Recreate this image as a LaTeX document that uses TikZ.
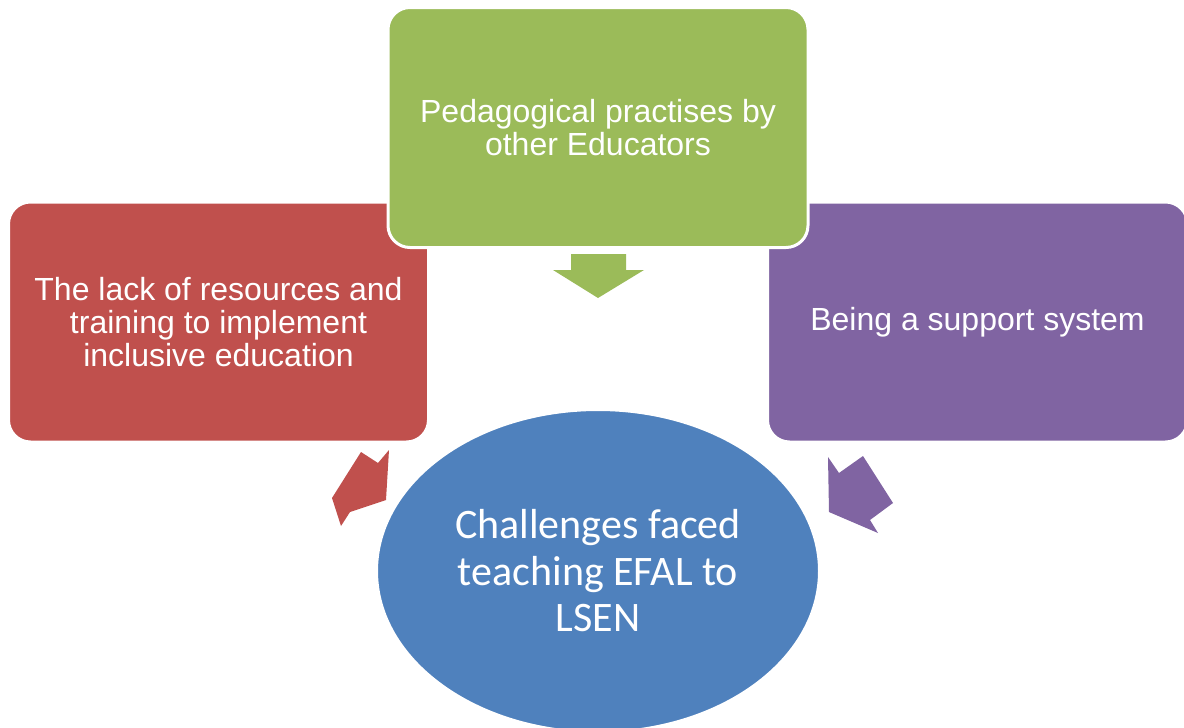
\documentclass[tikz,border=0pt]{standalone}
\usepackage{fontspec}
\setmainfont{Liberation Sans}
\newfontfamily\calibri{Carlito}
\usetikzlibrary{shapes.geometric}
\definecolor{topicred}{HTML}{C0504D}
\definecolor{topicgreen}{HTML}{9BBB59}
\definecolor{topicpurple}{HTML}{8064A2}
\definecolor{topicblue}{HTML}{4F81BD}
\tikzset{
  topic/.style = {draw = white, line width = 3pt, rounded corners = 22pt,
    minimum width = 420pt, minimum height = 240pt, align = center,
    text = white, font = \fontsize{32}{33}\selectfont},
  challenge/.style = {ellipse, draw = white, line width = 2pt, fill = topicblue,
    minimum width = 442pt, minimum height = 322pt, align = center,
    text = white, font = \calibri\fontsize{42}{46.5}\selectfont}
}
\begin{document}
\begin{tikzpicture}[x = 1pt, y = -1pt]
  \useasboundingbox (0, 0) rectangle (1184, 728);
  \node [topic, fill = topicred] (lack) at (218.5, 322) {The lack of resources and\\training to implement\\inclusive education};
  \node [topic, fill = topicpurple] (support) at (977.5, 322) {Being a support system};
  \node [topic, fill = topicgreen] (pedagogy) at (598, 127.5) {Pedagogical practises by\\other Educators};

  % arrows towards the centre
  \fill [topicgreen] (571, 254) -- (626, 254) -- (626, 270) -- (644, 270)
    -- (598, 298) -- (553, 270) -- (571, 270) -- cycle;
  \fill [topicred] (361, 452) -- (378, 463) -- (389, 450) -- (386, 500)
    -- (350, 512) -- (341, 526) -- (332, 498) -- cycle;
  \fill [topicpurple] (828, 457) -- (839, 473) -- (863, 456) -- (893, 503)
    -- (870, 520) -- (878, 533) -- (829, 512) -- cycle;

  \node [challenge] (centre) at (598, 571) {Challenges faced\\teaching EFAL to\\LSEN};
\end{tikzpicture}
\end{document}
